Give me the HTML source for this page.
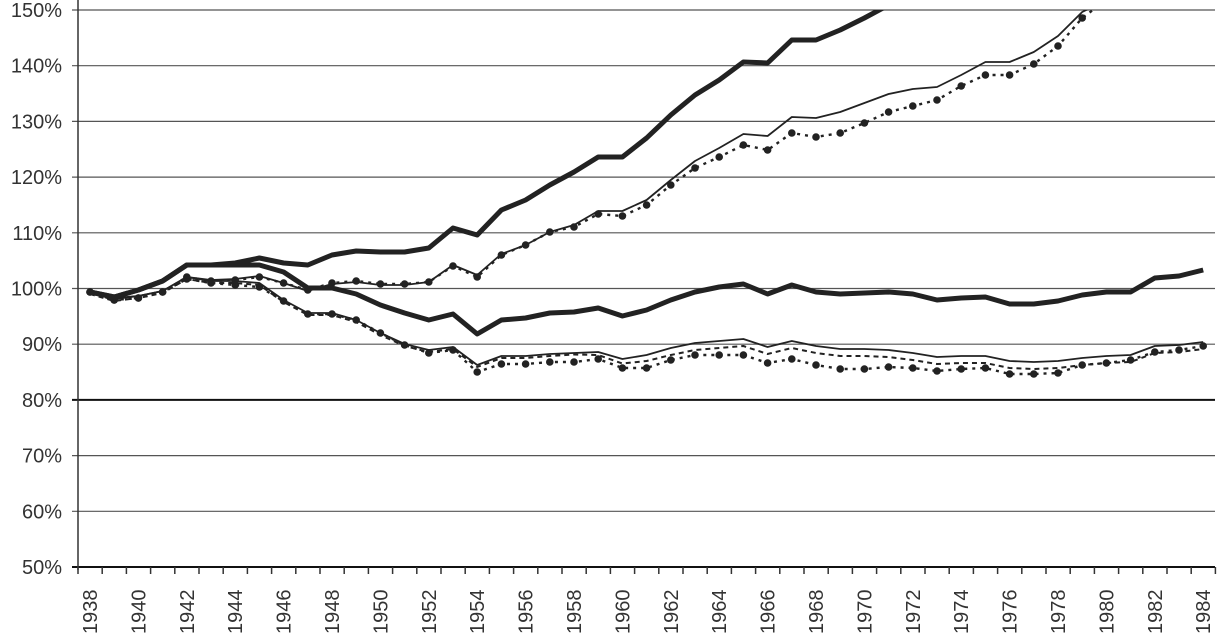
<!DOCTYPE html>
<html><head><meta charset="utf-8"><style>
html,body{margin:0;padding:0;background:#fff;}
svg{display:block;font-family:"Liberation Sans",sans-serif;}
</style></head><body>
<svg id="c" width="1222" height="640" viewBox="0 0 1222 640" xmlns="http://www.w3.org/2000/svg"></svg>
<script>
const s=document.getElementById('c');let h='';
const X=y=>90+(y-1938)*24.2;
for(let i=0;i<=10;i++){const y=10+i*55.7;const v=150-i*10;
 h+=`<line x1="72" x2="1215" y1="${y}" y2="${y}" stroke="${v==80||v==50?'#111':'#555'}" stroke-width="${v==80||v==50?2:1.2}"/>`;
 h+=`<text x="62" y="${y+7}" font-size="20" text-anchor="end" fill="#333">${v}%</text>`;}
h+=`<line x1="78" x2="78" y1="0" y2="570" stroke="#333" stroke-width="1.5"/>`;
for(let i=0;i<=47;i++){const x=78+i*24.2;h+=`<line x1="${x}" x2="${x}" y1="567" y2="574" stroke="#333" stroke-width="1.5"/>`;}
for(let y=1938;y<=1984;y+=2){const x=X(y);h+=`<text transform="translate(${x+7},634) rotate(-90)" font-size="20" fill="#333">${y}</text>`;}
const A=[292,297,290,281,265,265,263,258,263,265,255,251,252,252,248,228,235,210,200,185,172,157,157,138,115,95,80,62,63,40,40,30,18,5];
const D=[292,297,290,281,265,265,265,265,272,288,288,294,305,313,320,314,334,320,318,313,312,308,316,310,300,292,287,284,294,285,292,294,293,292,294,300,298,297,304,304,301,295,292,292,278,276,270];
const B=[292,298,296,291,277,280,279,276,283,291,284,282,285,285,282,265,275,254,245,232,225,211,211,200,180,161,148,134,136,117,118,112,103,94,89,87,75,62,62,52,36,12,0];
const C=[292,300,298,292,277,281,280,277,283,290,283,281,284,284,282,266,277,255,245,232,227,214,216,205,185,168,157,145,150,133,137,133,123,112,106,100,86,75,75,64,46,18,0];
const E=[292,299,296,291,277,281,281,283,300,313,313,320,333,344,350,347,365,356,356,354,353,352,359,355,348,343,341,339,347,341,346,349,349,350,353,357,356,356,361,362,361,358,356,355,346,345,342];
const F=[292,300,298,292,279,283,285,287,301,314,314,320,333,345,353,350,372,364,364,362,362,359,368,368,360,355,355,355,363,359,365,369,369,367,368,371,369,368,374,374,373,365,363,360,352,350,346];
const G=E.map((v,i)=>i<20?v+2:v+Math.min(7,(i-19)*1.5));
const pts=a=>a.map((v,i)=>`${X(1938+i)},${v}`).join(' ');
const pl=(a,w,extra='')=>h+=`<polyline points="${pts(a)}" fill="none" stroke="#222" stroke-width="${w}" stroke-linejoin="round" ${extra}/>`;
const dots=a=>a.forEach((v,i)=>{if(v>8)h+=`<circle cx="${X(1938+i)}" cy="${v}" r="3.8" fill="#222"/>`;});
h+=`<defs><clipPath id="cp"><rect x="78" y="10" width="1140" height="560"/></clipPath></defs><g clip-path="url(#cp)">`;
pl(G,2,'stroke-dasharray="5,4"');
pl(F,2.4,'stroke-dasharray="3,5"');dots(F);
pl(C,2.4,'stroke-dasharray="3,5"');dots(C);
pl(E,1.8);pl(B,1.8);
pl(D,5);pl(A,5);
h+='</g>';
s.innerHTML=h;
</script>
</body></html>
